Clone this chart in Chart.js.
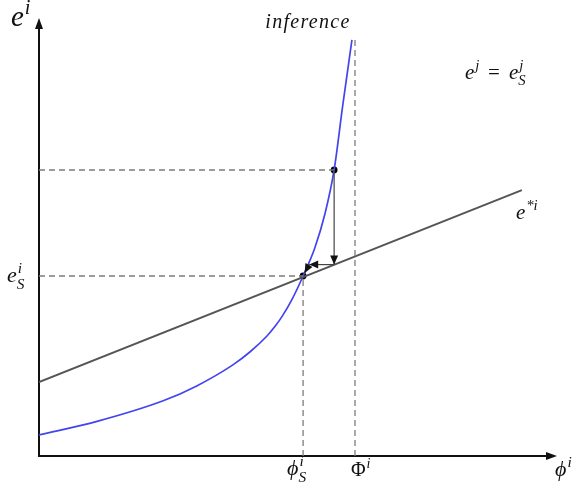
<!DOCTYPE html>
<html><head><meta charset="utf-8">
<script src="https://cdn.jsdelivr.net/npm/chart.js@4"></script>
<style>html,body{margin:0;padding:0;background:#fff}#c{display:block}</style>
</head><body>
<canvas id="c" width="578" height="484"></canvas>
<script>
// Inference curve
const curveX = [0, 1.14, 2.44, 3.10, 3.81, 4.15, 4.48, 4.64, 4.79, 4.97, 5.19, 5.42, 5.62, 5.80, 5.97, 6.15];
const curveY = [0.48, 0.79, 1.26, 1.60, 2.08, 2.38, 2.74, 2.96, 3.21, 3.57, 4.11, 4.75, 5.53, 6.53, 8.01, 9.50];
// e*i straight line
const lineX = [0, 9.49];
const lineY = [1.69, 6.07];
// key values
const phiS = 5.19, eS = 4.11;
const phiStart = 5.80, eStart = 6.53, eOnLine = 4.37;
const PhiBar = 6.21, PhiTop = 9.5;
const xMax = 10.18, yMax = 10;
// adjustment path arrows
const arrowFromX = [phiStart, phiStart, 5.31];
const arrowFromY = [eStart, eOnLine, eOnLine];
const arrowToX = [phiStart, 5.31, 5.22];
const arrowToY = [eOnLine, eOnLine, 4.18];

const pts = (xs, ys) => xs.map((x, i) => ({x, y: ys[i]}));
const dashStyle = {borderColor: '#7c7c7c', borderWidth: 1.3, borderDash: [6, 4], pointRadius: 0, showLine: true, fill: false};

function drawMath(ctx, base, sup, sub, x, y, size, baseFont) {
  ctx.save();
  ctx.fillStyle = '#111';
  ctx.textBaseline = 'alphabetic';
  ctx.font = (baseFont || 'italic') + ' ' + size + 'px "Liberation Serif", serif';
  ctx.fillText(base, x, y);
  const w = ctx.measureText(base).width;
  const s = size * 0.7;
  ctx.font = 'italic ' + s + 'px "Liberation Serif", serif';
  if (sup) ctx.fillText(sup, x + w + 1, y - size * 0.42);
  if (sub) ctx.fillText(sub, x + w, y + size * 0.3);
  ctx.restore();
}

function arrowHead(ctx, x1, y1, x2, y2, len, wid) {
  const a = Math.atan2(y2 - y1, x2 - x1);
  ctx.beginPath();
  ctx.moveTo(x2, y2);
  ctx.lineTo(x2 - len * Math.cos(a) + wid * Math.sin(a), y2 - len * Math.sin(a) - wid * Math.cos(a));
  ctx.lineTo(x2 - len * Math.cos(a) - wid * Math.sin(a), y2 - len * Math.sin(a) + wid * Math.cos(a));
  ctx.closePath();
  ctx.fill();
}

const overlay = {
  id: 'overlay',
  beforeDatasetsDraw(chart) {
    const ctx = chart.ctx, xs = chart.scales.x, ys = chart.scales.y;
    const x0 = xs.getPixelForValue(0), y0 = ys.getPixelForValue(0);
    const xe = xs.getPixelForValue(xMax), ye = ys.getPixelForValue(yMax);
    ctx.save();
    ctx.strokeStyle = '#111'; ctx.fillStyle = '#111'; ctx.lineWidth = 2;
    ctx.beginPath(); ctx.moveTo(x0, y0 + 1); ctx.lineTo(x0, ye + 6); ctx.stroke();
    arrowHead(ctx, x0, y0, x0, ye, 11, 4);
    ctx.beginPath(); ctx.moveTo(x0 - 1, y0); ctx.lineTo(xe - 6, y0); ctx.stroke();
    arrowHead(ctx, x0, y0, xe, y0, 11, 4);
    ctx.restore();
  },
  afterDatasetsDraw(chart) {
    const ctx = chart.ctx, xs = chart.scales.x, ys = chart.scales.y;
    const P = (x, y) => [xs.getPixelForValue(x), ys.getPixelForValue(y)];
    ctx.save();
    ctx.strokeStyle = '#444'; ctx.fillStyle = '#111'; ctx.lineWidth = 1.2;
    for (let i = 0; i < arrowFromX.length; i++) {
      const [a, b] = P(arrowFromX[i], arrowFromY[i]);
      const [c, d] = P(arrowToX[i], arrowToY[i]);
      ctx.beginPath(); ctx.moveTo(a, b); ctx.lineTo(c, d); ctx.stroke();
      arrowHead(ctx, a, b, c, d, 9, 4);
    }
    ctx.restore();
    // labels
    let [px, py] = P(0, yMax);
    drawMath(ctx, 'e', 'i', null, px - 28, py + 8, 29);
    [px, py] = P(PhiBar, PhiTop);
    ctx.save(); ctx.fillStyle = '#111'; ctx.font = 'italic 20px "Liberation Serif", serif';
    ctx.letterSpacing = '1.3px'; ctx.textAlign = 'center'; ctx.fillText('inference', px - 47, py - 12); ctx.restore();
    drawMath(ctx, 'e', 'j', null, 465, 79, 21);
    ctx.save(); ctx.fillStyle = '#111'; ctx.font = '21px "Liberation Serif", serif'; ctx.fillText('=', 488, 79); ctx.restore();
    drawMath(ctx, 'e', 'j', 'S', 509, 79, 21);
    [px, py] = P(lineX[1], lineY[1]);
    drawMath(ctx, 'e', '*i', null, px - 6, py + 29, 21);
    [px, py] = P(0, eS);
    drawMath(ctx, 'e', 'i', 'S', px - 32, py + 6, 22);
    [px, py] = P(phiS, 0);
    drawMath(ctx, 'ϕ', 'i', 'S', px - 16, py + 19, 22);
    [px, py] = P(PhiBar, 0);
    drawMath(ctx, 'Φ', 'i', null, px - 4, py + 20, 20, 'normal');
    [px, py] = P(xMax, 0);
    drawMath(ctx, 'ϕ', 'i', null, px - 2, py + 20, 22);
  }
};

new Chart(document.getElementById('c'), {
  type: 'scatter',
  data: {
    datasets: [
      {...dashStyle, data: pts([0, phiS], [eS, eS])},
      {...dashStyle, data: pts([0, phiStart], [eStart, eStart])},
      {...dashStyle, data: pts([phiS, phiS], [0, eS])},
      {...dashStyle, data: pts([PhiBar, PhiBar], [0, PhiTop])},
      {data: pts(lineX, lineY), showLine: true, borderColor: '#555', borderWidth: 2, pointRadius: 0, fill: false},
      {data: pts(curveX, curveY), showLine: true, borderColor: '#4444ee', borderWidth: 1.7, pointRadius: 0, fill: false, cubicInterpolationMode: 'monotone'},
      {data: pts([phiS, phiStart], [eS, eStart]), showLine: false, pointRadius: 3.4, pointBackgroundColor: '#000', pointBorderColor: '#000', pointBorderWidth: 0}
    ]
  },
  options: {
    responsive: false, animation: false, devicePixelRatio: 1,
    layout: {padding: {left: 39, right: 21, top: 18, bottom: 28}},
    plugins: {legend: {display: false}, tooltip: {enabled: false}},
    scales: {
      x: {type: 'linear', min: 0, max: xMax, display: false},
      y: {type: 'linear', min: 0, max: yMax, display: false}
    }
  },
  plugins: [overlay]
});
</script>
</body></html>
